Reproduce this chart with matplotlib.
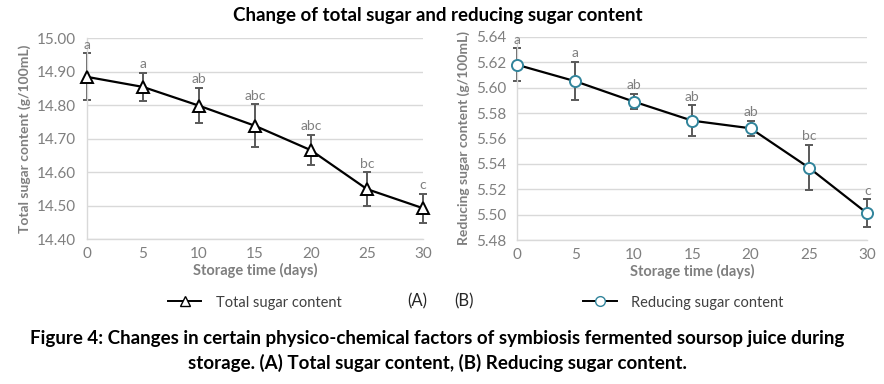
import matplotlib.pyplot as plt
from matplotlib.lines import Line2D

days = [0, 5, 10, 15, 20, 25, 30]

total_sugar = [14.884, 14.854, 14.798, 14.738, 14.665, 14.549, 14.492]
total_err = [0.070, 0.043, 0.053, 0.064, 0.045, 0.050, 0.043]
total_letters = ["a", "a", "ab", "abc", "abc", "bc", "c"]

reducing_sugar = [5.618, 5.605, 5.589, 5.574, 5.568, 5.537, 5.501]
reducing_err = [0.013, 0.015, 0.006, 0.012, 0.006, 0.018, 0.011]
reducing_letters = ["a", "a", "ab", "ab", "ab", "bc", "c"]

total_ticks = [14.40, 14.50, 14.60, 14.70, 14.80, 14.90, 15.00]
reducing_ticks = [5.48, 5.50, 5.52, 5.54, 5.56, 5.58, 5.60, 5.62, 5.64]
day_ticks = [0, 5, 10, 15, 20, 25, 30]

FONT = "Lato"
GRAY = "#7f7f7f"
GRID = "#d9d9d9"
ERR = "#595959"
TEAL = "#31849b"

plt.rcParams["font.family"] = [FONT, "DejaVu Sans"]

fig = plt.figure(figsize=(8.84, 3.84), dpi=100)
fig.patch.set_facecolor("white")


def draw_panel(ax, y, err, letters, ticks, fmt, ylabel, marker, mfc, mec):
    eb = ax.errorbar(days, y, yerr=err, fmt="none", ecolor=ERR, elinewidth=1.4,
                     capsize=3, capthick=1.4, zorder=2)
    for art in eb.lines[1] + eb.lines[2]:
        art.set_clip_on(False)
    ax.plot(days, y, color="black", lw=1.6, marker=marker, ms=9 if marker == "^" else 8,
            mfc=mfc, mec=mec, mew=1.4, zorder=3, clip_on=False)
    for xi, yi, ei, lab in zip(days, y, err, letters):
        ax.annotate(lab, (xi, yi + ei), xytext=(0, 2), textcoords="offset points",
                    ha="center", va="bottom", fontsize=10, color=GRAY,
                    annotation_clip=False)
    ax.set_xlim(0, 30)
    ax.set_ylim(ticks[0], ticks[-1])
    ax.set_yticks(ticks)
    ax.set_yticklabels([fmt.format(t) for t in ticks])
    ax.set_xticks(day_ticks)
    ax.grid(axis="y", color=GRID, lw=1)
    ax.set_axisbelow(True)
    for s in ["top", "right"]:
        ax.spines[s].set_visible(False)
    for s in ["left", "bottom"]:
        ax.spines[s].set_color(GRID)
        ax.spines[s].set_linewidth(1)
    ax.tick_params(length=0, labelsize=11, colors=GRAY, pad=8)
    ax.set_xlabel("Storage time (days)", fontsize=10.5, fontweight="bold",
                  color=GRAY, labelpad=1)
    ax.set_ylabel(ylabel, fontsize=10, fontweight="bold", color=GRAY, labelpad=4)


ax1 = fig.add_axes([0.0984, 0.3776, 0.380, 0.5234])
draw_panel(ax1, total_sugar, total_err, total_letters, total_ticks, "{:.2f}",
           "Total sugar content (g/100mL)", "^", "white", "black")
ax1.tick_params(axis="x", pad=6)

ax2 = fig.add_axes([0.585, 0.375, 0.396, 0.529])
draw_panel(ax2, reducing_sugar, reducing_err, reducing_letters, reducing_ticks, "{:.2f}",
           "Reducing sugar content (g/100mL)", "o", "white", TEAL)
ax2.tick_params(axis="x", pad=6)

fig.text(0.495, 0.96, "Change of total sugar and reducing sugar content",
         ha="center", va="center", fontsize=13.5, fontweight="bold")

# legends row
h1 = Line2D([], [], color="black", lw=1.4, marker="^", ms=7, mfc="white", mec="black")
h2 = Line2D([], [], color="black", lw=1.4, marker="o", ms=7, mfc="white", mec=TEAL)
fig.legend([h1], ["Total sugar content"], loc="center left",
           bbox_to_anchor=(0.175, 0.212), frameon=False, fontsize=10.5,
           handlelength=2.3, handletextpad=1.0, labelcolor="#404040")
fig.legend([h2], ["Reducing sugar content"], loc="center left",
           bbox_to_anchor=(0.645, 0.212), frameon=False, fontsize=10.5,
           handlelength=2.3, handletextpad=1.0, labelcolor="#404040")
fig.text(0.472, 0.215, "(A)", ha="center", va="center", fontsize=12, color="#262626")
fig.text(0.525, 0.215, "(B)", ha="center", va="center", fontsize=12, color="#262626")

fig.text(0.495, 0.118,
         "Figure 4: Changes in certain physico-chemical factors of symbiosis fermented soursop juice during",
         ha="center", va="center", fontsize=13.5, fontweight="bold")
fig.text(0.495, 0.055, "storage. (A) Total sugar content, (B) Reducing sugar content.",
         ha="center", va="center", fontsize=13.5, fontweight="bold")

fig.savefig("out.png", dpi=100, facecolor="white")
